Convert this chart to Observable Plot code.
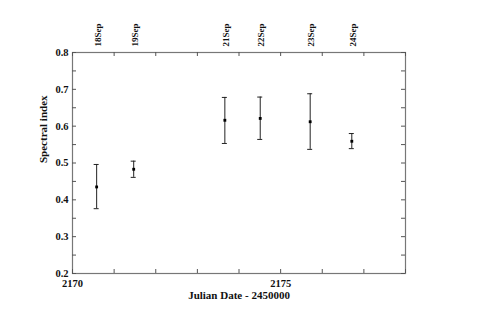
<!DOCTYPE html>
<html>
<head>
<meta charset="utf-8">
<script src="https://cdn.jsdelivr.net/npm/d3@7"></script>
<script src="https://cdn.jsdelivr.net/npm/@observablehq/plot@0.6"></script>
<style>
  html, body { margin: 0; padding: 0; background: #fff; }
  #chart { width: 480px; height: 323px; }
</style>
</head>
<body>
<div id="chart"></div>
<script>
// Data
const dates   = ["18Sep", "19Sep", "21Sep", "22Sep", "23Sep", "24Sep"];
const jd      = [2170.58, 2171.47, 2173.66, 2174.51, 2175.71, 2176.71];
const index   = [0.435, 0.483, 0.616, 0.621, 0.612, 0.559];
const errLow  = [0.376, 0.461, 0.553, 0.564, 0.537, 0.539];
const errHigh = [0.496, 0.505, 0.678, 0.679, 0.688, 0.580];

const xTicks = [2170, 2171, 2172, 2173, 2174, 2175, 2176, 2177, 2178];
const xTickLabels = [2170, 2175];
const yTicks = [0.2, 0.25, 0.3, 0.35, 0.4, 0.45, 0.5, 0.55, 0.6, 0.65, 0.7, 0.75, 0.8];
const yTickLabels = [0.2, 0.3, 0.4, 0.5, 0.6, 0.7, 0.8];

const data = dates.map((d, i) => ({date: d, x: jd[i], y: index[i], lo: errLow[i], hi: errHigh[i]}));

const W = 480, H = 323;
const mL = 72, mR = 75, mT = 52, mB = 50;
const fw = W - mL - mR, fh = H - mT - mB;
const tick = 4;
const font = "'Liberation Serif', 'Times New Roman', serif";

const chart = Plot.plot({
  width: W, height: H,
  marginLeft: mL, marginRight: mR, marginTop: mT, marginBottom: mB,
  style: {fontFamily: font, background: "#fff"},
  x: {domain: [2170, 2178]},
  y: {domain: [0.2, 0.8]},
  marks: [
    Plot.frame({stroke: "#777", strokeWidth: 1.2}),
    // inward ticks on all four sides
    Plot.tickX(xTicks, {x: d => d, insetTop: fh - tick, stroke: "#555"}),
    Plot.tickX(xTicks, {x: d => d, insetBottom: fh - tick, stroke: "#555"}),
    Plot.tickY(yTicks, {y: d => d, insetRight: fw - tick, stroke: "#555"}),
    Plot.tickY(yTicks, {y: d => d, insetLeft: fw - tick, stroke: "#555"}),
    Plot.axisX(xTickLabels, {tickSize: 0, tickPadding: 3, fontSize: 10.5, fontWeight: "bold", fill: "#111", label: null, dy: 3, tickFormat: d3.format("d")}),
    Plot.axisY(yTickLabels, {tickSize: 0, tickPadding: 4, fontSize: 10.5, fontWeight: "bold", fill: "#111", label: null, tickFormat: d3.format(".1f")}),
    Plot.text(["Julian Date - 2450000"], {frameAnchor: "bottom", dy: 25, fontSize: 11, fontWeight: "bold", fill: "#111"}),
    Plot.text(["Spectral index"], {frameAnchor: "left", dx: -29, rotate: -90, fontSize: 11, fontWeight: "bold", fill: "#111"}),
    // date labels above the frame
    Plot.text(data, {x: "x", text: "date", frameAnchor: "top", rotate: -90, textAnchor: "start", dy: -6, dx: -2.5, fontSize: 9, fontWeight: "bold", fill: "#111"}),
    // error bars
    Plot.ruleX(data, {x: "x", y1: "lo", y2: "hi", stroke: "#222", strokeWidth: 1}),
    Plot.ruleY(data, {y: "lo", x1: "x", x2: "x", insetLeft: -2.5, insetRight: -2.5, stroke: "#222", strokeWidth: 1}),
    Plot.ruleY(data, {y: "hi", x1: "x", x2: "x", insetLeft: -2.5, insetRight: -2.5, stroke: "#222", strokeWidth: 1}),
    Plot.dot(data, {x: "x", y: "y", symbol: "square", r: 1.6, fill: "#000", stroke: "none"})
  ]
});
document.getElementById("chart").appendChild(chart);
</script>
</body>
</html>
